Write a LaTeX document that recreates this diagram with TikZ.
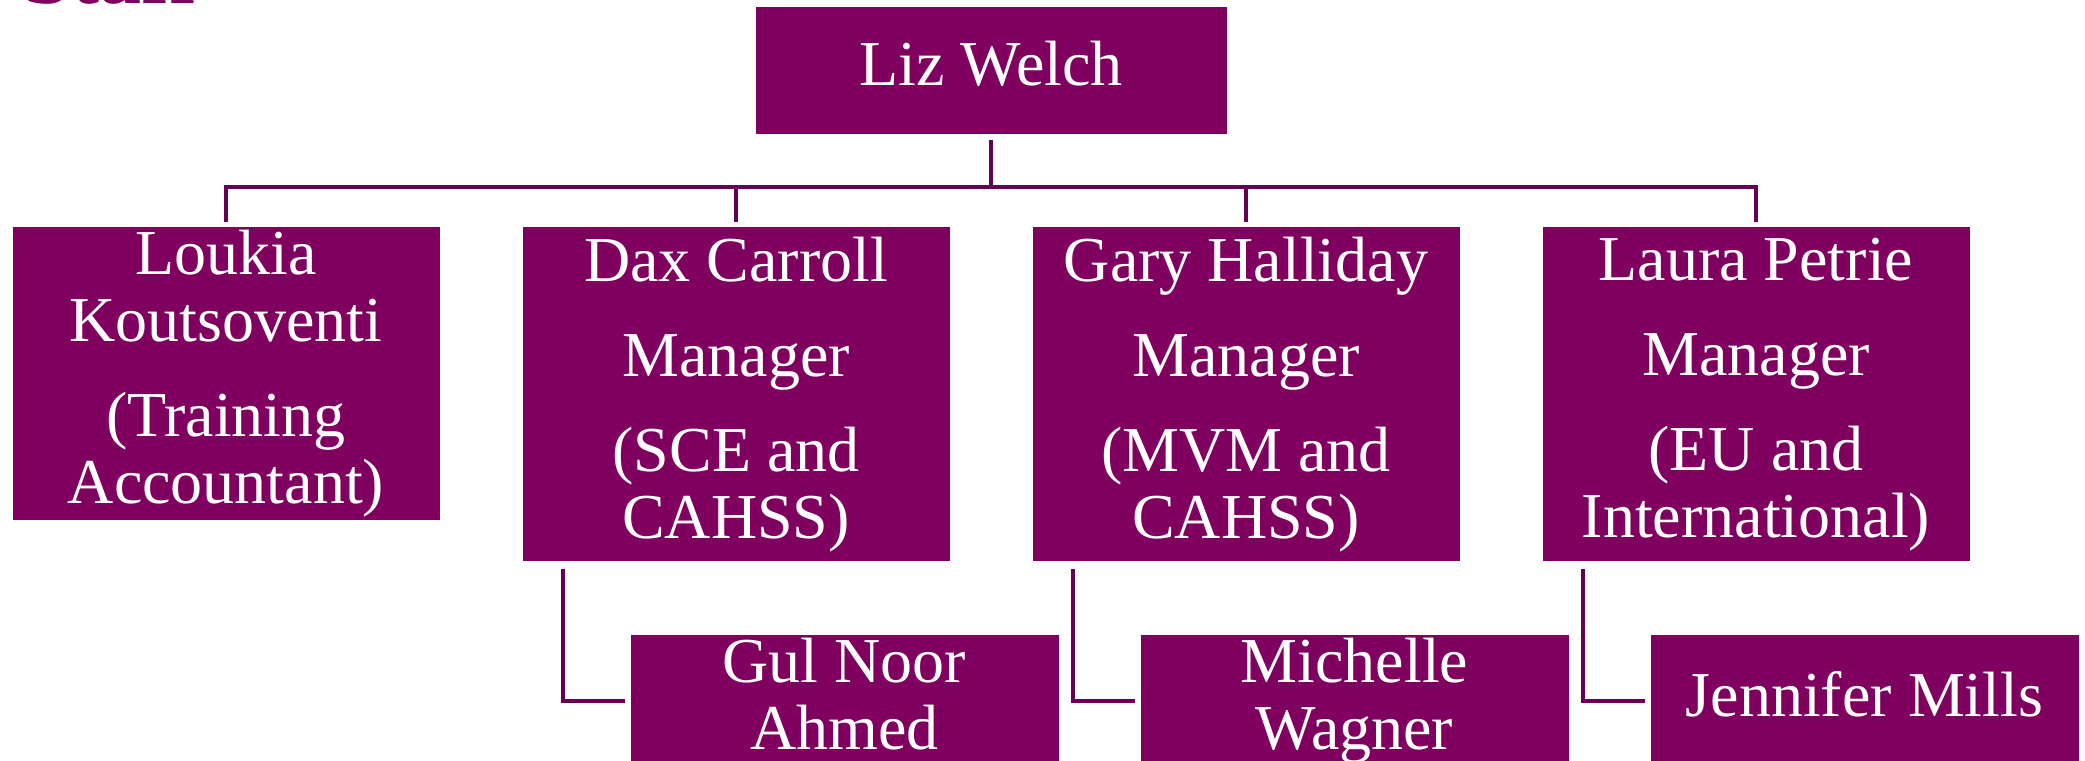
\documentclass[tikz,border=0pt]{standalone}
\usepackage{fontspec}
\setmainfont{Liberation Serif}
\usepackage{xcolor}
\usepackage{tikz}
\usetikzlibrary{positioning}
\definecolor{boxpurple}{HTML}{800060}
\definecolor{linepurple}{HTML}{660050}
\tikzset{
  staffnode/.style = {fill=boxpurple, text=white, inner sep=0pt, align=center,
    font=\fontsize{32}{33.5}\selectfont},% box de base
  boss_n/.style = {staffnode, minimum width=235.5pt, minimum height=63.5pt,
    text depth=8pt},% chef
  mgr_n/.style = {staffnode, minimum width=213.5pt, minimum height=167pt},% manager
  sub_n/.style = {staffnode, minimum width=214pt, minimum height=66pt,
    text depth=7pt},% sous un manager
  link/.style = {draw=linepurple, line width=2.2pt}
}

\begin{document}
\begin{tikzpicture}[level distance=110pt, sibling distance=255pt,
  growth parent anchor=north, every child node/.style={anchor=north},
  edge from parent/.style={link, shorten <=2.5pt, shorten >=2.5pt},
  edge from parent path={(\tikzparentnode.south) -- ++(0,-26pt) -| (\tikzchildnode.north)}]
\useasboundingbox (0,0) rectangle (1042.5pt,-380.5pt);
\node [font=\fontsize{42}{42}\selectfont\bfseries, text=boxpurple, inner sep=0pt,
  anchor=base west] (title) at (12pt,-1.5pt) {Staff};
\node [boss_n, anchor=north] (liz) at (495.5pt,-3.5pt) {Liz Welch}
    child{ node [mgr_n, minimum height=146.5pt] (loukia)
        {Loukia\\Koutsoventi\\[14pt](Training\\Accountant)}}
    child{ node [mgr_n] (dax) {Dax Carroll\\[14pt]Manager\\[14pt](SCE and\\CAHSS)}}
    child{ node [mgr_n] (gary) {Gary Halliday\\[14pt]Manager\\[14pt](MVM and\\CAHSS)}}
    child{ node [mgr_n] (laura) {Laura Petrie\\[14pt]Manager\\[14pt](EU and\\International)}}
;
\node [sub_n, below right=36.5pt and 54pt of dax.south west] (gul) {Gul Noor\\Ahmed};
\node [sub_n, below right=36.5pt and 54pt of gary.south west] (michelle) {Michelle\\Wagner};
\node [sub_n, below right=36.5pt and 54pt of laura.south west] (jennifer) {Jennifer Mills};
\draw [link, shorten <=3.5pt, shorten >=2.5pt] (dax.south west) ++(20.5pt,0) |- (gul.west);
\draw [link, shorten <=3.5pt, shorten >=2.5pt] (gary.south west) ++(20.5pt,0) |- (michelle.west);
\draw [link, shorten <=3.5pt, shorten >=2.5pt] (laura.south west) ++(20.5pt,0) |- (jennifer.west);
\end{tikzpicture}
\end{document}
